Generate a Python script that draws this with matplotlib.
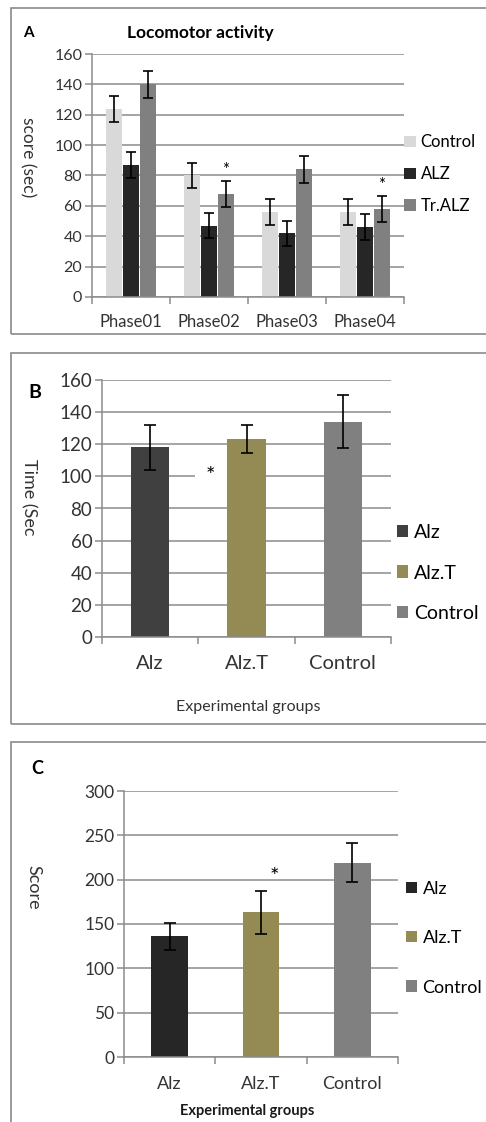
import matplotlib
matplotlib.use("Agg")
import matplotlib.pyplot as plt
from matplotlib.patches import Rectangle
import numpy as np

plt.rcParams['font.family'] = ['Lato', 'DejaVu Sans']

# ---------------- data ----------------
phases = ["Phase01", "Phase02", "Phase03", "Phase04"]
a_series = ["Control", "ALZ", "Tr.ALZ"]
a_control = [124, 80, 56, 56]
a_control_err = [8.5, 8.3, 8.5, 8.5]
a_alz = [87, 47, 42, 46]
a_alz_err = [8.5, 8.1, 8.3, 8.4]
a_tralz = [140, 68, 84, 58]
a_tralz_err = [8.8, 8.6, 8.7, 8.4]
a_ticks = [0, 20, 40, 60, 80, 100, 120, 140, 160]

b_groups = ["Alz", "Alz.T", "Control"]
b_values = [118, 123, 134]
b_err = [14, 8.7, 16.6]
b_ticks = [0, 20, 40, 60, 80, 100, 120, 140, 160]

c_groups = ["Alz", "Alz.T", "Control"]
c_values = [136, 163, 219]
c_err = [15, 24, 22]
c_ticks = [0, 50, 100, 150, 200, 250, 300]

W, H = 486, 1122
fig = plt.figure(figsize=(W / 100, H / 100), dpi=100)

def fx(x):
    return x / W

def fy(y):
    return 1 - y / H

def add_axes(x0, x1, y_top, y_bot):
    return fig.add_axes([fx(x0), fy(y_bot), fx(x1) - fx(x0), (y_bot - y_top) / H])

GRID = "#8c8c8c"
TXT = "#333333"

def style(ax, ncat, ticks, yfs, xfs, xpad):
    ax.set_xlim(-0.5, ncat - 0.5)
    ax.set_ylim(ticks[0], ticks[-1])
    ax.set_yticks(ticks)
    ax.yaxis.grid(True, color=GRID, linewidth=1.1)
    ax.set_axisbelow(True)
    for s in ["top", "right"]:
        ax.spines[s].set_visible(False)
    for s in ["left", "bottom"]:
        ax.spines[s].set_color(GRID)
        ax.spines[s].set_linewidth(1.1)
    ax.tick_params(axis='y', length=5, color=GRID, width=1.1, labelsize=yfs, labelcolor=TXT, pad=2)
    ax.set_xticks(np.arange(ncat))
    ax.set_xticks(np.arange(ncat + 1) - 0.5, minor=True)
    ax.tick_params(axis='x', which='major', length=0, labelsize=xfs, labelcolor=TXT, pad=xpad)
    ax.tick_params(axis='x', which='minor', length=5, color=GRID, width=1.1)

# panel boxes
for (top, bot) in [(8, 334), (353, 724), (742, 1130)]:
    fig.patches.append(Rectangle((fx(11), fy(bot)), fx(600) - fx(11), (bot - top) / H,
                                 transform=fig.transFigure, fill=False,
                                 edgecolor="#8a8a8a", linewidth=1.2, zorder=0))

ekwA = dict(ecolor="black", elinewidth=1.2, capsize=3.5, capthick=1.2)
ekw = dict(ecolor="black", elinewidth=1.2, capsize=4.5, capthick=1.2)

# ---------------- Panel A ----------------
axA = add_axes(92, 404, 54, 297)
style(axA, 4, a_ticks, 11.5, 12, 12)
x = np.arange(len(phases))
bw = 0.217
cols_a = ["#d9d9d9", "#262626", "#808080"]
vals_a = [a_control, a_alz, a_tralz]
errs_a = [a_control_err, a_alz_err, a_tralz_err]
for i in range(3):
    axA.bar(x + (i - 1) * bw, vals_a[i], bw * 0.98, color=cols_a[i], label=a_series[i],
            yerr=errs_a[i], error_kw=ekwA, zorder=2)
axA.set_xticklabels(phases)
fig.text(fx(28), fy(157), "score (sec)", rotation=-90, fontsize=12.5, color=TXT,
         ha="center", va="center")
axA.legend(loc="center left", bbox_to_anchor=(1.0, 0.505), frameon=False, fontsize=12,
           handlelength=0.7, handleheight=0.7, handletextpad=0.3, labelspacing=0.95,
           borderaxespad=0.0, borderpad=0.0)
axA.text(1 + bw, a_tralz[1] + a_tralz_err[1] + 2, "*", ha="center", va="bottom", fontsize=12)
axA.text(3 + bw, a_tralz[3] + a_tralz_err[3] + 2, "*", ha="center", va="bottom", fontsize=12)
fig.text(fx(23), fy(33), "A", fontsize=11, fontweight="bold", va="center")
fig.text(fx(127), fy(33), "Locomotor activity", fontsize=12.5, fontweight="bold", va="center")

# ---------------- Panel B ----------------
axB = add_axes(102, 391, 380, 637)
style(axB, 3, b_ticks, 13.5, 14.5, 13)
cols_b = ["#404040", "#948a54", "#808080"]
xb = np.arange(len(b_groups))
barsB = axB.bar(xb, b_values, 0.4, color=cols_b, yerr=b_err, error_kw=ekw, zorder=2)
axB.set_xticklabels(b_groups)
fig.text(fx(29), fy(497), "Time (Sec", rotation=-90, fontsize=13, color=TXT,
         ha="center", va="center")
fig.text(fx(248), fy(707), "Experimental groups", fontsize=11.5, color=TXT,
         ha="center", va="center")
axB.legend(barsB, b_groups, loc="center left", bbox_to_anchor=(1.02, 0.249), frameon=False,
           fontsize=14, handlelength=0.6, handleheight=0.6, handletextpad=0.3,
           labelspacing=1.2, borderaxespad=0.0, borderpad=0.0)
axB.text(0.63, 100, "*", ha="center", va="center", fontsize=16, zorder=3,
         bbox=dict(facecolor="white", edgecolor="none", pad=8))
fig.text(fx(35), fy(392), "B", fontsize=14, fontweight="bold", va="center", ha="center")

# ---------------- Panel C ----------------
axC = add_axes(124, 398, 791, 1057)
style(axC, 3, c_ticks, 12.5, 13, 14)
cols_c = ["#262626", "#948a54", "#808080"]
xc = np.arange(len(c_groups))
barsC = axC.bar(xc, c_values, 0.4, color=cols_c, yerr=c_err, error_kw=ekw, zorder=2)
axC.set_xticklabels(c_groups)
fig.text(fx(33), fy(887), "Score", rotation=-90, fontsize=13, color=TXT,
         ha="center", va="center")
fig.text(fx(247), fy(1111), "Experimental groups", fontsize=10.5, fontweight="bold",
         color="#1a1a1a", ha="center", va="center")
axC.legend(barsC, c_groups, loc="center left", bbox_to_anchor=(1.03, 0.447), frameon=False,
           fontsize=13, handlelength=0.6, handleheight=0.6, handletextpad=0.3,
           labelspacing=1.85, borderaxespad=0.0, borderpad=0.0)
axC.text(1.15, 192, "*", ha="center", va="bottom", fontsize=16)
fig.text(fx(37), fy(769), "C", fontsize=13, fontweight="bold", va="center", ha="center")

fig.savefig("out.png", dpi=100, facecolor="white")
